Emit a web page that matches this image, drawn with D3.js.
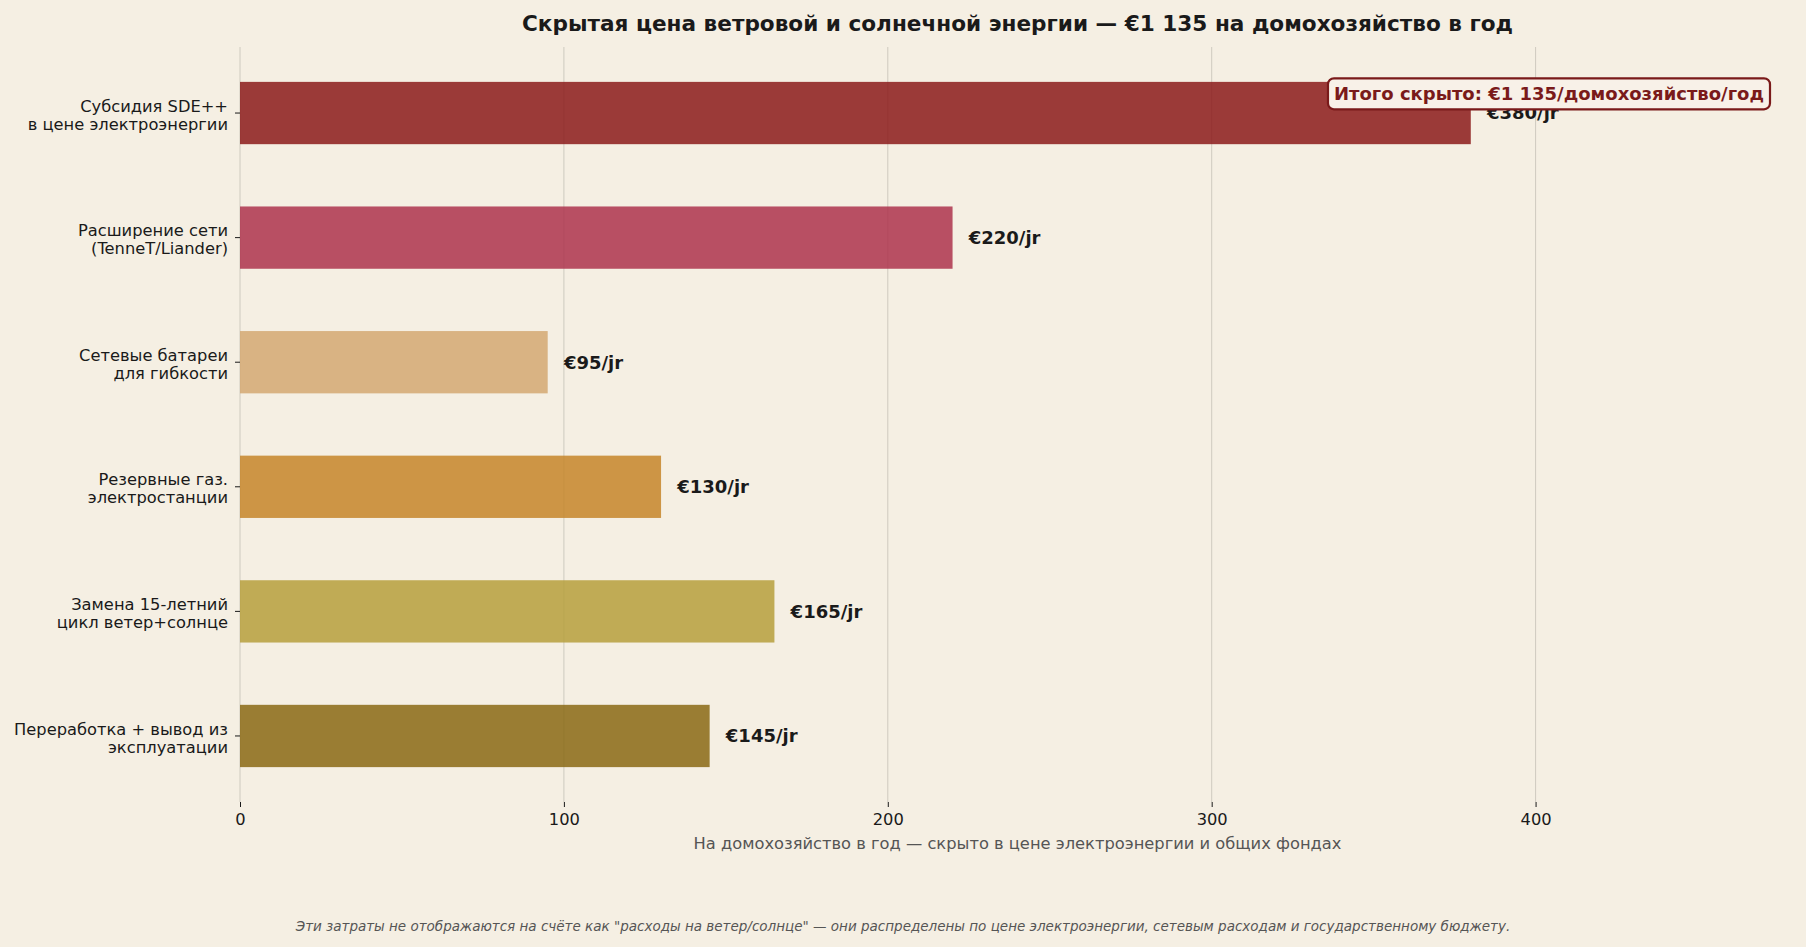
<!DOCTYPE html>
<html>
<head>
<meta charset="utf-8">
<script src="https://cdn.jsdelivr.net/npm/d3@7"></script>
<style>
  body { margin: 0; background: #f5efe3; }
  svg { display: block; font-family: "DejaVu Sans", sans-serif; }
</style>
</head>
<body>
<div id="chart"></div>
<script>
// data
var categories = [
  ["Субсидия SDE++", "в цене электроэнергии"],
  ["Расширение сети", "(TenneT/Liander)"],
  ["Сетевые батареи", "для гибкости"],
  ["Резервные газ.", "электростанции"],
  ["Замена 15-летний", "цикл ветер+солнце"],
  ["Переработка + вывод из", "эксплуатации"]
];
var values = [380, 220, 95, 130, 165, 145];
var colors = ["#8b1a1a", "#ad324c", "#d4a872", "#c68529", "#b69f3c", "#8a6814"];
var xTicks = [0, 100, 200, 300, 400];

var W = 1806, H = 947;
var margin = {top: 47, right: 11, bottom: 145, left: 240},
    width = W - margin.left - margin.right,
    height = H - margin.top - margin.bottom;

var svg = d3.select("#chart").append("svg")
  .attr("width", W)
  .attr("height", H);

svg.append("rect").attr("width", W).attr("height", H).attr("fill", "#f5efe3");

var g = svg.append("g")
  .attr("transform", "translate(" + margin.left + "," + margin.top + ")");

var x = d3.scaleLinear().domain([0, 480.1]).range([0, width]);
var y = d3.scaleBand()
  .domain(d3.range(values.length))
  .range([0, height])
  .paddingInner(0.5)
  .paddingOuter(0.28);

// grid
g.selectAll(".grid")
  .data(xTicks)
  .enter().append("line")
  .attr("x1", function(d) { return x(d); })
  .attr("x2", function(d) { return x(d); })
  .attr("y1", 0)
  .attr("y2", height)
  .attr("stroke", "#cbc6bb")
  .attr("stroke-width", 0.9);

// bars
g.selectAll(".bar")
  .data(values)
  .enter().append("rect")
  .attr("x", x(0))
  .attr("y", function(d, i) { return y(i); })
  .attr("width", function(d) { return x(d) - x(0); })
  .attr("height", y.bandwidth())
  .attr("fill", function(d, i) { return colors[i]; })
  .attr("fill-opacity", 0.85);

// value labels
g.selectAll(".val")
  .data(values)
  .enter().append("text")
  .attr("x", function(d) { return x(d + 5); })
  .attr("y", function(d, i) { return y(i) + y.bandwidth() / 2; })
  .attr("dy", "0.35em")
  .attr("font-size", 18)
  .attr("font-weight", "bold")
  .attr("fill", "#1a1a1a")
  .text(function(d) { return "€" + d + "/jr"; });

// x axis
var xAxis = g.append("g")
  .attr("transform", "translate(0," + height + ")")
  .call(d3.axisBottom(x).tickValues(xTicks).tickSize(5).tickPadding(6));
xAxis.select(".domain").remove();
xAxis.selectAll("line").attr("stroke", "#1a1a1a");
xAxis.selectAll("text")
  .attr("font-size", 16.3)
  .attr("font-family", "DejaVu Sans")
  .attr("fill", "#1a1a1a");

// y axis
var yAxis = g.append("g")
  .call(d3.axisLeft(y).tickSize(5).tickPadding(6).tickFormat(""));
yAxis.select(".domain").remove();
yAxis.selectAll("line").attr("stroke", "#1a1a1a");

g.selectAll(".ylab")
  .data(categories)
  .enter().append("text")
  .attr("x", -12)
  .attr("y", function(d, i) { return y(i) + y.bandwidth() / 2; })
  .attr("text-anchor", "end")
  .attr("font-size", 16.3)
  .attr("fill", "#1a1a1a")
  .each(function(d) {
    var t = d3.select(this);
    t.append("tspan").attr("x", -12).attr("dy", "-0.08em").text(d[0]);
    t.append("tspan").attr("x", -12).attr("dy", "1.1em").text(d[1]);
  });

// annotation box
var ann = g.append("g");
var annText = ann.append("text")
  .attr("x", width - 31)
  .attr("y", 47)
  .attr("dy", "0.35em")
  .attr("text-anchor", "end")
  .attr("font-size", 18)
  .attr("font-weight", "bold")
  .attr("fill", "#7a1a1a")
  .text("Итого скрыто: €1 135/домохозяйство/год");
var bb = annText.node().getBBox();
ann.insert("rect", "text")
  .attr("x", bb.x - 6)
  .attr("y", bb.y - 5)
  .attr("width", bb.width + 12)
  .attr("height", bb.height + 10)
  .attr("rx", 6)
  .attr("fill", "#f8f1e8")
  .attr("stroke", "#7a1a1a")
  .attr("stroke-width", 2.2);

// title
svg.append("text")
  .attr("x", margin.left + width / 2)
  .attr("y", 23)
  .attr("dy", "0.35em")
  .attr("text-anchor", "middle")
  .attr("font-size", 21.6)
  .attr("font-weight", "bold")
  .attr("fill", "#1a1a1a")
  .text("Скрытая цена ветровой и солнечной энергии — €1 135 на домохозяйство в год");

// x label
svg.append("text")
  .attr("x", margin.left + width / 2)
  .attr("y", 843)
  .attr("dy", "0.35em")
  .attr("text-anchor", "middle")
  .attr("font-size", 16.3)
  .attr("fill", "#555555")
  .text("На домохозяйство в год — скрыто в цене электроэнергии и общих фондах");

// footnote
svg.append("text")
  .attr("x", W / 2)
  .attr("y", 926)
  .attr("dy", "0.35em")
  .attr("text-anchor", "middle")
  .attr("font-size", 13.5)
  .attr("font-style", "italic")
  .attr("fill", "#555555")
  .text("Эти затраты не отображаются на счёте как \"расходы на ветер/солнце\" — они распределены по цене электроэнергии, сетевым расходам и государственному бюджету.");
</script>
</body>
</html>
